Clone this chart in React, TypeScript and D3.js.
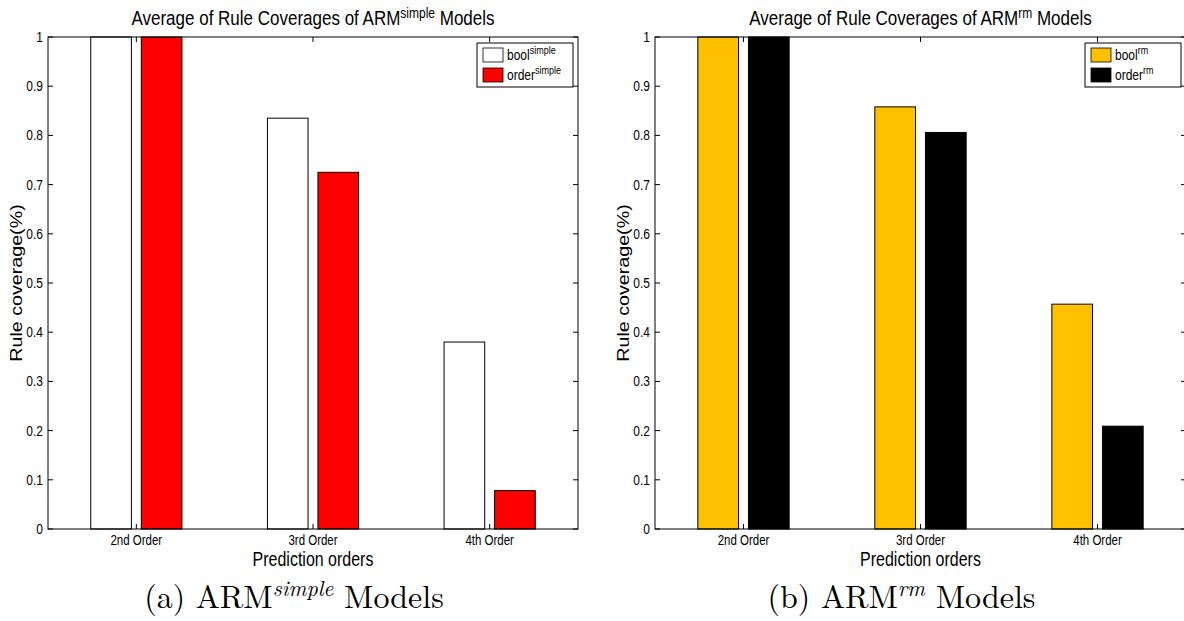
import React from "react";
import { scaleLinear } from "d3";

const categories = ["2nd Order", "3rd Order", "4th Order"];
const boolSimple = [1, 0.835, 0.38];
const orderSimple = [1, 0.725, 0.078];
const boolRm = [1, 0.858, 0.457];
const orderRm = [1, 0.806, 0.209];
const yTicks = [0, 0.1, 0.2, 0.3, 0.4, 0.5, 0.6, 0.7, 0.8, 0.9, 1];

const SANS = "'Liberation Sans', Arial, Helvetica, sans-serif";
const SERIF = "'Latin Modern Roman', 'CMU Serif', 'DejaVu Serif', 'Liberation Serif', serif";
// the figure was stretched vertically, so the matlab text is taller than wide
const S = 1.23;

// stretched text helper
function SText({ x, y, children, ...rest }: any) {
  return (
    <text transform={`translate(${x},${y}) scale(1,${S})`} fontFamily={SANS} {...rest}>
      {children}
    </text>
  );
}

type PanelProps = {
  x0: number;
  x1: number;
  sup: string;
  series: { values: number[]; fill: string; name: string }[];
  caption: string;
  captionSup: string;
};

function Panel({ x0, x1, sup, series, caption, captionSup }: PanelProps) {
  const top = 37;
  const bottom = 529;
  const x = scaleLinear().domain([0.5, 3.5]).range([x0, x1]);
  const y = scaleLinear().domain([0, 1]).range([bottom, top]);
  const barW = x(0.23) - x(0);
  const offsets = [-0.143, 0.143];
  const cx = (x0 + x1) / 2;
  const tickLen = 5;
  const legX = x1 - 101;

  return (
    <g>
      {/* title */}
      <SText x={cx} y={25} textAnchor="middle" fontSize={17}>
        Average of Rule Coverages of ARM
        <tspan fontSize={12} dy={-6}>{sup}</tspan>
        <tspan dy={6}> Models</tspan>
      </SText>

      {/* bars */}
      {series.map((s, si) =>
        s.values.map((v, i) => (
          <rect
            key={`${si}-${i}`}
            x={x(i + 1 + offsets[si]) - barW / 2}
            y={y(v)}
            width={barW}
            height={y(0) - y(v)}
            fill={s.fill}
            stroke="#000"
            strokeWidth={1}
          />
        ))
      )}

      {/* axes box */}
      <rect x={x0} y={top} width={x1 - x0} height={bottom - top} fill="none" stroke="#000" strokeWidth={1} />

      {/* y ticks */}
      {yTicks.map((t) => (
        <g key={t}>
          <line x1={x0} x2={x0 + tickLen} y1={y(t)} y2={y(t)} stroke="#000" />
          <line x1={x1} x2={x1 - tickLen} y1={y(t)} y2={y(t)} stroke="#000" />
          <SText x={x0 - 5} y={y(t) + 5} textAnchor="end" fontSize={12}>
            {String(+t.toFixed(1))}
          </SText>
        </g>
      ))}

      {/* x ticks */}
      {categories.map((c, i) => (
        <g key={c}>
          <line x1={x(i + 1)} x2={x(i + 1)} y1={bottom} y2={bottom - tickLen} stroke="#000" />
          <line x1={x(i + 1)} x2={x(i + 1)} y1={top} y2={top + tickLen} stroke="#000" />
          <SText x={x(i + 1)} y={545} textAnchor="middle" fontSize={11.5}>
            {c}
          </SText>
        </g>
      ))}

      {/* axis labels */}
      <SText x={cx} y={566} textAnchor="middle" fontSize={16}>
        Prediction orders
      </SText>
      <text
        transform={`translate(${x0 - 26},${(top + bottom) / 2}) scale(1,${S}) rotate(-90)`}
        textAnchor="middle"
        fontFamily={SANS}
        fontSize={16}
      >
        Rule coverage(%)
      </text>

      {/* legend */}
      <rect x={legX} y={43} width={96} height={44} fill="#fff" stroke="#000" />
      {series.map((s, si) => (
        <g key={s.name}>
          <rect x={legX + 6} y={48 + si * 20} width={20} height={14} fill={s.fill} stroke="#000" strokeWidth={0.8} />
          <SText x={legX + 30} y={60 + si * 20} fontSize={12}>
            {s.name}
            <tspan fontSize={9} dy={-5}>{sup}</tspan>
          </SText>
        </g>
      ))}

      {/* caption */}
      <text x={cx - 19} y={608} textAnchor="middle" fontFamily={SERIF} fontSize={32}>
        {caption}
        <tspan fontStyle="italic" fontSize={22} dy={-12}>{captionSup}</tspan>
        <tspan dy={12}> Models</tspan>
      </text>
    </g>
  );
}

export default function App() {
  return (
    <svg
      width={1184}
      height={621}
      style={{ position: "absolute", left: 0, top: 0, background: "#fff" }}
    >
      <rect width={1184} height={621} fill="#fff" />
      <Panel
        x0={48}
        x1={578}
        sup="simple"
        series={[
          { values: boolSimple, fill: "#ffffff", name: "bool" },
          { values: orderSimple, fill: "#ff0000", name: "order" },
        ]}
        caption="(a) ARM"
        captionSup="simple"
      />
      <Panel
        x0={655}
        x1={1186}
        sup="rm"
        series={[
          { values: boolRm, fill: "#ffc000", name: "bool" },
          { values: orderRm, fill: "#000000", name: "order" },
        ]}
        caption="(b) ARM"
        captionSup="rm"
      />
    </svg>
  );
}
